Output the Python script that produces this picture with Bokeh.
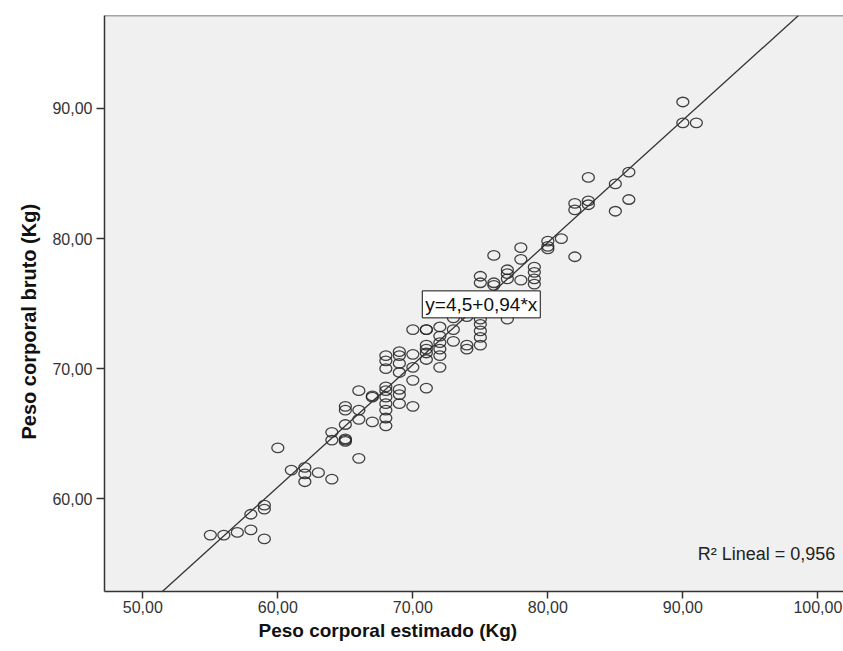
from bokeh.plotting import figure
from bokeh.models import FixedTicker, Label, Slope, Span, Title, ColumnDataSource
from bokeh.embed import file_html
from bokeh.resources import INLINE

# Peso corporal estimado (Kg)
x_est = [55, 56, 57, 58, 58, 59, 59, 59, 60, 61, 62, 62, 62, 63, 64, 64, 64,
         65, 65, 65, 65, 65, 65, 66, 66, 66, 66, 67, 67, 67,
         68, 68, 68, 68, 68, 68, 68, 68, 68, 68,
         69, 69, 69, 69, 69, 69, 69,
         70, 70, 70, 70, 70,
         71, 71, 71, 71, 71, 71, 71,
         72, 72, 72, 72, 72, 72,
         73, 73, 73, 74, 74, 74,
         75, 75, 75, 75, 75, 75, 75,
         76, 76, 76, 77, 77, 77, 77, 78, 78, 78,
         79, 79, 79, 79, 80, 80, 80, 81, 82, 82, 82,
         83, 83, 83, 85, 85, 86, 86, 90, 90, 91]
# Peso corporal bruto (Kg)
y_bruto = [57.2, 57.2, 57.4, 57.6, 58.8, 56.9, 59.2, 59.5, 63.9, 62.2, 62.4, 61.9, 61.3, 62.0, 65.1, 64.5, 61.5,
           67.1, 66.8, 65.7, 64.6, 64.5, 64.4, 68.3, 66.8, 66.1, 63.1, 67.9, 67.8, 65.9,
           71.0, 70.6, 70.0, 68.6, 68.3, 67.8, 67.3, 66.8, 66.2, 65.6,
           71.3, 71.0, 70.4, 69.7, 68.4, 68.0, 67.3,
           73.0, 71.1, 70.1, 69.1, 67.1,
           73.0, 73.0, 71.8, 71.5, 71.2, 70.7, 68.5,
           73.2, 72.5, 72.0, 71.5, 71.0, 70.1,
           73.9, 73.0, 72.1, 74.0, 71.8, 71.5,
           77.1, 76.6, 73.8, 73.4, 72.9, 72.4, 71.8,
           78.7, 76.6, 76.4, 77.6, 77.3, 76.9, 73.8, 79.3, 78.4, 76.8,
           77.8, 77.4, 76.9, 76.5, 79.8, 79.4, 79.2, 80.0, 82.7, 82.2, 78.6,
           84.7, 82.9, 82.6, 84.2, 82.1, 85.1, 83.0, 90.5, 88.9, 88.9]

x_ticks = [50, 60, 70, 80, 90, 100]
x_tick_labels = ["50,00", "60,00", "70,00", "80,00", "90,00", "100,00"]
y_ticks = [60, 70, 80, 90]
y_tick_labels = ["60,00", "70,00", "80,00", "90,00"]

fit_intercept = 4.5
fit_slope = 0.94
eq_text = "y=4,5+0,94*x"
r2_text = "R\u00b2 Lineal = 0,956"
x_title = "Peso corporal estimado (Kg)"
y_title = "Peso corporal bruto (Kg)"

X0, X1 = 47.16, 101.90
Y0, Y1 = 52.86, 97.15

p = figure(width=843, height=651, x_range=(X0, X1), y_range=(Y0, Y1),
           output_backend="svg", toolbar_location=None,
           min_border_left=104, min_border_right=0, min_border_top=15, min_border_bottom=60)
p.background_fill_color = "#F0F0F0"
p.border_fill_color = "white"
p.outline_line_color = None
p.grid.visible = False

FONT = "Liberation Sans"

for ax, ticks, labels in ((p.xaxis[0], x_ticks, x_tick_labels), (p.yaxis[0], y_ticks, y_tick_labels)):
    ax.ticker = FixedTicker(ticks=ticks)
    ax.major_label_overrides = {t: l for t, l in zip(ticks, labels)}
    ax.minor_tick_line_color = None
    ax.major_tick_in = 0
    ax.axis_line_color = "#333333"
    ax.axis_line_width = 1.5
    ax.major_tick_line_color = "#333333"
    ax.major_tick_line_width = 1.5
    ax.major_label_text_font = FONT
    ax.major_label_text_font_size = "16px"
    ax.major_label_text_color = "#333333"

p.xaxis.major_tick_out = 7
p.xaxis.major_label_standoff = 2
p.yaxis.major_tick_out = 8
p.yaxis.major_label_standoff = 4

xt = Title(text=x_title, align="left", offset=154, text_font=FONT, text_font_style="bold",
           text_font_size="19px", text_color="#111111", standoff=5)
p.add_layout(xt, "below")

yt = Title(text=y_title, align="left", offset=152, text_font=FONT, text_font_style="bold",
           text_font_size="20px", text_color="#111111", standoff=19)
p.add_layout(yt, "left")

p.add_layout(Span(location=Y1, dimension="width", line_color="#555555", line_width=1.5))

p.add_layout(Slope(gradient=fit_slope, y_intercept=fit_intercept, line_color="#333333", line_width=1.3))

src = ColumnDataSource(dict(x=x_est, y=y_bruto))
p.ellipse(x="x", y="y", width=12, height=9.5, width_units="screen", height_units="screen",
          source=src, fill_color=None, line_color="#222222", line_alpha=0.85, line_width=1.3)

p.add_layout(Label(x=70.7, y=73.9, text=eq_text, text_font=FONT, text_font_size="19px",
                   text_color="#111111", background_fill_color="white",
                   border_line_color="#111111", border_line_width=1, padding=3))

p.add_layout(Label(x=91.1, y=55.0, text=r2_text, text_font=FONT, text_font_size="18px",
                   text_color="#222222"))

open("out.html", "w").write(file_html(p, INLINE))
